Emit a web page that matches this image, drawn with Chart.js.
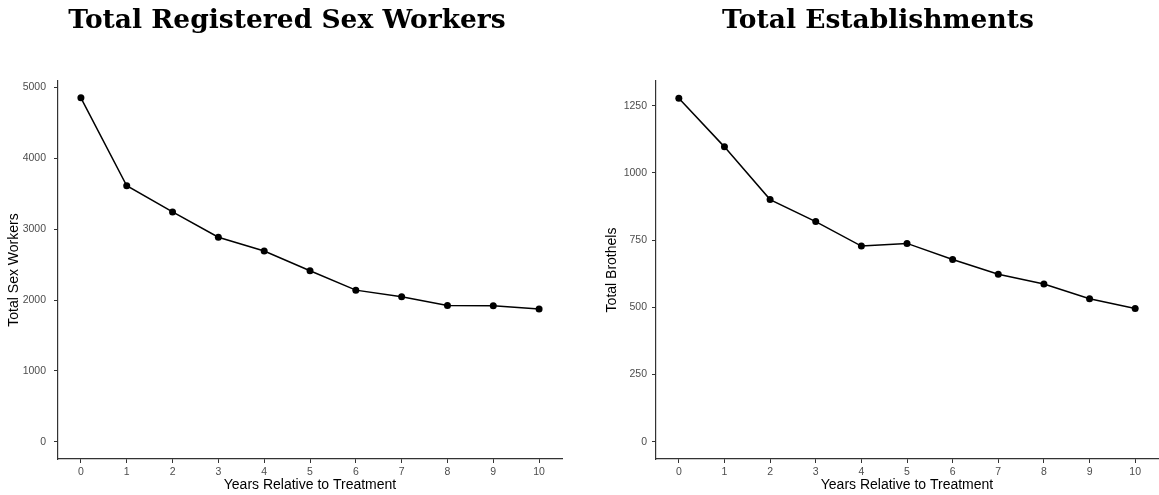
<!DOCTYPE html>
<html>
<head>
<meta charset="utf-8">
<script src="https://cdn.jsdelivr.net/npm/chart.js@4"></script>
<style>
  html, body { margin: 0; padding: 0; background: #fff; overflow: hidden; }
  #wrap { position: relative; width: 1159px; height: 495px; overflow: hidden; }
  .panel { position: absolute; top: 0; height: 495px; }
  #p1 { left: 0; width: 580px; }
  #p2 { left: 580px; width: 582px; }
</style>
</head>
<body>
<div id="wrap">
  <div class="panel" id="p1"><canvas id="chartWorkers"></canvas></div>
  <div class="panel" id="p2"><canvas id="chartBrothels"></canvas></div>
</div>
<script>
const years = [0, 1, 2, 3, 4, 5, 6, 7, 8, 9, 10];
const workers = [4855, 3614, 3244, 2887, 2694, 2415, 2141, 2046, 1924, 1920, 1873];
const brothels = [1278, 1097, 901, 819, 728, 738, 678, 623, 587, 532, 496];
const workerTicks = [0, 1000, 2000, 3000, 4000, 5000];
const brothelTicks = [0, 250, 500, 750, 1000, 1250];

const tickColor = "#4d4d4d";
const axisColor = "#333333";

function makeChart(id, titulo, yTitulo, valores, yTicks, yMin, yMax, opts) {
  const ctx = document.getElementById(id).getContext("2d");
  return new Chart(ctx, {
    type: "line",
    data: {
      datasets: [{
        data: years.map((x, i) => ({ x, y: valores[i] })),
        borderColor: "#000",
        backgroundColor: "#000",
        borderWidth: 1.5,
        pointRadius: 3.5,
        pointBorderWidth: 0,
        tension: 0
      }]
    },
    options: {
      responsive: true,
      maintainAspectRatio: false,
      animation: false,
      layout: { padding: { left: opts.padLeft, right: opts.padRight, top: 0, bottom: 0 } },
      plugins: {
        legend: { display: false },
        tooltip: { enabled: false },
        title: {
          display: true,
          text: titulo,
          color: "#000",
          font: { family: "DejaVu Serif", size: 26.5, weight: "bold" },
          padding: { top: 5, bottom: 44.2 }
        }
      },
      scales: {
        x: {
          type: "linear",
          min: -0.5,
          max: 10.5,
          afterBuildTicks: (s) => { s.ticks = years.map(v => ({ value: v })); },
          afterFit: (s) => { s.height = 36; },
          grid: { drawOnChartArea: false, tickLength: 4, color: axisColor, lineWidth: 1 },
          border: { display: true, color: axisColor, width: 1.2 },
          ticks: {
            color: tickColor, padding: 3,
            font: { family: "Liberation Sans", size: 10.5 },
            callback: (v) => String(v)
          },
          title: {
            display: true,
            text: "Years Relative to Treatment",
            color: "#000",
            font: { family: "Liberation Sans", size: 14 },
            padding: { top: 0, bottom: 1 }
          }
        },
        y: {
          type: "linear",
          min: yMin,
          max: yMax,
          afterBuildTicks: (s) => { s.ticks = yTicks.map(v => ({ value: v })); },
          afterFit: (s) => { s.width = opts.yWidth; },
          grid: { drawOnChartArea: false, tickLength: 4, color: axisColor, lineWidth: 1 },
          border: { display: true, color: axisColor, width: 1.2 },
          ticks: {
            color: tickColor, padding: opts.tickPad,
            font: { family: "Liberation Sans", size: 10.5 },
            callback: (v) => String(v)
          },
          title: {
            display: true,
            text: yTitulo,
            color: "#000",
            font: { family: "Liberation Sans", size: 14 },
            padding: { top: opts.yTitlePad, bottom: 0 }
          }
        }
      }
    }
  });
}

makeChart("chartWorkers", "Total Registered Sex Workers", "Total Sex Workers",
  workers, workerTicks, -242, 5092,
  { padLeft: 12, padRight: 18, yWidth: 46, tickPad: 8, yTitlePad: -6 });

makeChart("chartBrothels", "Total Establishments", "Total Brothels",
  brothels, brothelTicks, -64, 1342,
  { padLeft: 16, padRight: 2, yWidth: 60, tickPad: 5, yTitlePad: 7.5 });
</script>
</body>
</html>
